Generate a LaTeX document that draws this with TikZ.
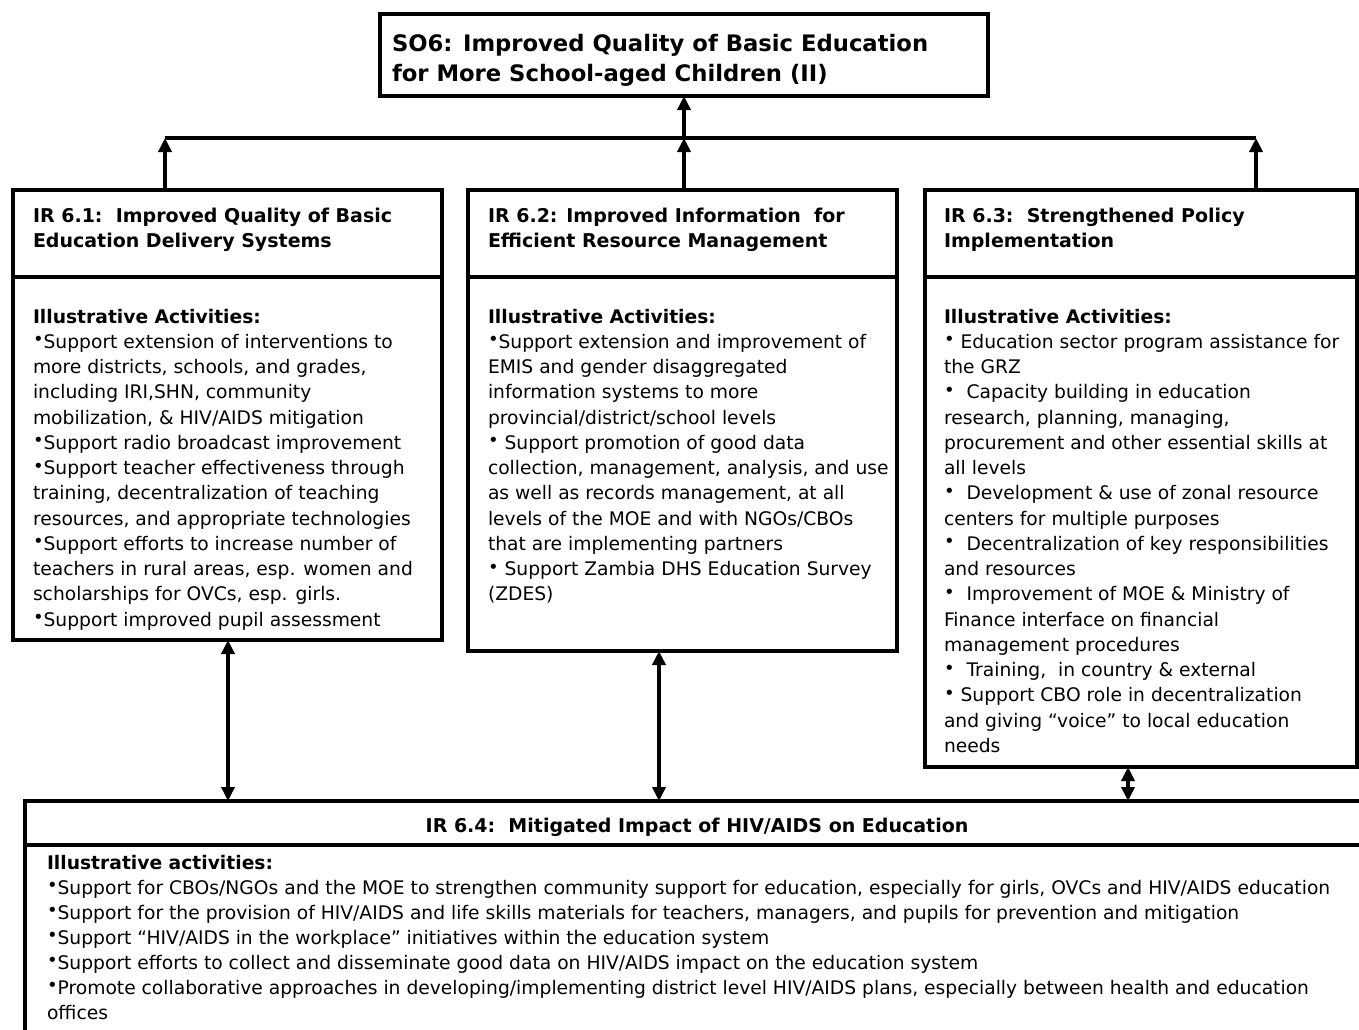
\documentclass[tikz,border=0pt]{standalone}
\usepackage{fontspec}
\setmainfont{DejaVu Sans}
\usetikzlibrary{arrows.meta}
\tikzset{
 box/.style={draw, line width=3.5pt, rectangle, anchor=north west, inner sep=0pt, outer sep=0pt},
 txt/.style={anchor=base west, inner sep=0pt, outer sep=0pt},
 rule/.style={line width=3.5pt},
 conn/.style={line width=3.5pt, -{Triangle[length=14pt,width=13pt]}},
 dconn/.style={line width=3.5pt, {Triangle[length=14pt,width=13pt]}-{Triangle[length=14pt,width=13pt]}},
}
\newcommand\bul{\raisebox{2.5pt}{\fontsize{18}{18}\selectfont •}}
\newcommand\bodyfont{\fontsize{18.7}{25.25}\selectfont}
\newcommand\blk[2][560pt]{\parbox[t]{#1}{\bodyfont\raggedright #2}}
\begin{document}
\begin{tikzpicture}[x=1pt,y=-1pt]
\useasboundingbox (0,0) rectangle (1359,1029);
\clip (0,0) rectangle (1359,1029);
% boxes
\node[box, minimum width=608pt, minimum height=82pt] (top) at (380,14) {};
\node[box, minimum width=429pt, minimum height=450pt] (b1) at (13,190) {};
\node[box, minimum width=429pt, minimum height=461pt] (b2) at (468,190) {};
\node[box, minimum width=432pt, minimum height=577pt] (b3) at (925,190) {};
\node[box, minimum width=1360pt, minimum height=260pt] (b4) at (25,801) {};
% dividers
\draw[rule] (13,277) -- (442,277);
\draw[rule] (468,277) -- (897,277);
\draw[rule] (925,277) -- (1357,277);
\draw[rule] (25,845) -- (1390,845);
% connectors
\coordinate (j1) at (165,138);
\coordinate (j2) at (684,138);
\coordinate (j3) at (1256,138);
\draw[rule] (j1) -- (j3);
\draw[conn] (j1 |- b1.north) -- (j1);
\draw[conn] (j2 |- b2.north) -- (j2);
\draw[conn] (j3 |- b3.north) -- (j3);
\draw[conn] (j2) -- (j2 |- top.south);
\coordinate (k1) at (228,0);
\coordinate (k2) at (659,0);
\coordinate (k3) at (1128,0);
\draw[dconn] (k1 |- b1.south) -- (k1 |- b4.north);
\draw[dconn] (k2 |- b2.south) -- (k2 |- b4.north);
\draw[dconn] (k3 |- b3.south) -- (k3 |- b4.north);
% texts
\node[txt] (t0) at (392,51) {\blk[700pt]{\fontsize{22.7}{30}\selectfont\bfseries SO6: Improved Quality of Basic Education\\for More School-aged Children (II)}};
\node[txt] (h1) at (33,222) {\blk{\fontsize{19}{25.25}\selectfont\bfseries IR 6.1:\ \ Improved Quality of Basic\\Education Delivery Systems}};
\node[txt] (h2) at (488,222) {\blk{\fontsize{19}{25.25}\selectfont\bfseries IR 6.2: Improved Information\ \ for\\Efficient Resource Management}};
\node[txt] (h3) at (944,222) {\blk{\fontsize{19}{25.25}\selectfont\bfseries IR 6.3:\ \ Strengthened Policy\\Implementation}};
\node[txt] (a1) at (33,323) {\blk{{\bfseries Illustrative Activities:}\\
\bul Support extension of interventions to\\
more districts, schools, and grades,\\
including IRI,SHN, community\\
mobilization, \& HIV/AIDS mitigation\\
\bul Support radio broadcast improvement\\
\bul Support teacher effectiveness through\\
training, decentralization of teaching\\
resources, and appropriate technologies\\
\bul Support efforts to increase number of\\
teachers in rural areas, esp. women and\\
scholarships for OVCs, esp. girls.\\
\bul Support improved pupil assessment}};
\node[txt] (a2) at (488,323) {\blk{{\bfseries Illustrative Activities:}\\
\bul Support extension and improvement of\\
EMIS and gender disaggregated\\
information systems to more\\
provincial/district/school levels\\
\bul\ Support promotion of good data\\
collection, management, analysis, and use\\
as well as records management, at all\\
levels of the MOE and with NGOs/CBOs\\
that are implementing partners\\
\bul\ Support Zambia DHS Education Survey\\
(ZDES)}};
\node[txt] (a3) at (944,323) {\blk{{\bfseries Illustrative Activities:}\\
\bul\ Education sector program assistance for\\
the GRZ\\
\bul\ \ Capacity building in education\\
research, planning, managing,\\
procurement and other essential skills at\\
all levels\\
\bul\ \ Development \& use of zonal resource\\
centers for multiple purposes\\
\bul\ \ Decentralization of key responsibilities\\
and resources\\
\bul\ \ Improvement of MOE \& Ministry of\\
Finance interface on financial\\
management procedures\\
\bul\ \ Training,\ \ in country \& external\\
\bul\ Support CBO role in decentralization\\
and giving “voice” to local education\\
needs}};
\node[anchor=base, inner sep=0pt] (h4) at (697,832) {\fontsize{19}{25}\selectfont\bfseries IR 6.4:\ \ Mitigated Impact of HIV/AIDS on Education};
\node[txt] (a4) at (47,869) {\blk[1400pt]{\fontsize{18.7}{25}\selectfont{\bfseries Illustrative activities:}\\
\bul Support for CBOs/NGOs and the MOE to strengthen community support for education, especially for girls, OVCs and HIV/AIDS education\\
\bul Support for the provision of HIV/AIDS and life skills materials for teachers, managers, and pupils for prevention and mitigation\\
\bul Support “HIV/AIDS in the workplace” initiatives within the education system\\
\bul Support efforts to collect and disseminate good data on HIV/AIDS impact on the education system\\
\bul Promote collaborative approaches in developing/implementing district level HIV/AIDS plans, especially between health and education\\
offices}};
\end{tikzpicture}
\end{document}
